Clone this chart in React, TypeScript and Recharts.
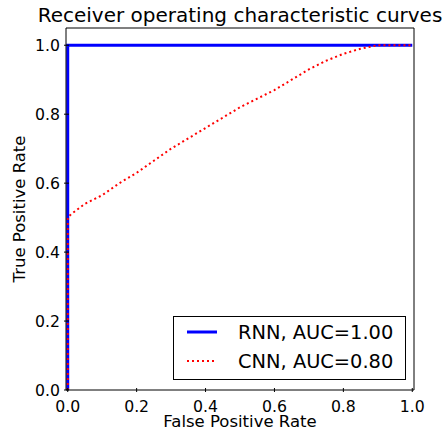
import { LineChart, Line, XAxis, YAxis, Label } from "recharts";

const FONT = "'DejaVu Sans', sans-serif";

// ROC points
const rnnFpr = [0, 0, 1];
const rnnTpr = [0, 1, 1];
const cnnFpr = [0, 0, 0.01, 0.05, 0.1, 0.15, 0.2, 0.25, 0.3, 0.35, 0.4, 0.45, 0.5, 0.55, 0.6, 0.65, 0.7, 0.75, 0.8, 0.85, 0.9, 0.95, 1];
const cnnTpr = [0, 0.5, 0.51, 0.54, 0.565, 0.6, 0.63, 0.665, 0.7, 0.73, 0.76, 0.79, 0.82, 0.845, 0.87, 0.9, 0.93, 0.955, 0.975, 0.99, 1, 1, 1];
const axisTicks = [0, 0.2, 0.4, 0.6, 0.8, 1.0];
const seriesNames = ["RNN, AUC=1.00", "CNN, AUC=0.80"];
const seriesColors = ["#0000ff", "#ff0000"];

const rnnData = rnnFpr.map((x, i) => ({ fpr: x, tpr: rnnTpr[i] }));
const cnnData = cnnFpr.map((x, i) => ({ fpr: x, tpr: cnnTpr[i] }));

const xDomain = [-0.005, 1.005];
const yDomain = [0, 1.05];

const LeftTick = (p: any) => (
  <g>
    <line x1={p.x} x2={p.x + 5} y1={p.y} y2={p.y} stroke="#000" />
    <text x={p.x - 4} y={p.y} dy="0.36em" textAnchor="end" fontSize={15.7} fontFamily={FONT} fill="#000">
      {Number(p.payload.value).toFixed(1)}
    </text>
  </g>
);
const RightTick = (p: any) => <line x1={p.x - 5} x2={p.x} y1={p.y} y2={p.y} stroke="#000" />;
const TopTick = (p: any) => <line x1={p.x} x2={p.x} y1={p.y} y2={p.y + 4} stroke="#000" />;
const BottomTick = (p: any) => (
  <g>
    <line x1={p.x} x2={p.x} y1={p.y - 4} y2={p.y} stroke="#000" />
    <text x={p.x} y={p.y + 20} textAnchor="middle" fontSize={15.7} fontFamily={FONT} fill="#000">
      {Number(p.payload.value).toFixed(1)}
    </text>
  </g>
);

export default function App() {
  return (
    <div style={{ position: "absolute", left: 0, top: 0, width: 445, height: 436, background: "#fff" }}>
      <LineChart width={445} height={436} margin={{ top: 27, right: 30, bottom: 0, left: 0 }}>
        <XAxis
          dataKey="fpr"
          type="number"
          domain={xDomain}
          ticks={axisTicks}
          height={46}
          tickSize={0}
          tickLine={false}
          tick={BottomTick}
          axisLine={{ stroke: "#000" }}
          allowDuplicatedCategory
        >
          <Label
            content={() => (
              <text x={240} y={427} textAnchor="middle" fontSize={16.5} fontFamily={FONT} fill="#000">
                False Positive Rate
              </text>
            )}
          />
        </XAxis>
        <XAxis
          xAxisId="top"
          orientation="top"
          dataKey="fpr"
          type="number"
          domain={xDomain}
          ticks={axisTicks}
          height={1}
          tickSize={0}
          tickLine={false}
          tick={TopTick}
          axisLine={{ stroke: "#000" }}
        >
          <Label
            content={() => (
              <text x={240} y={22} textAnchor="middle" fontSize={20} fontFamily={FONT} fill="#000">
                Receiver operating characteristic curves
              </text>
            )}
          />
        </XAxis>
        <YAxis
          type="number"
          domain={yDomain}
          ticks={axisTicks}
          width={66}
          tickSize={0}
          tickLine={false}
          tick={LeftTick}
          axisLine={{ stroke: "#000" }}
        >
          <Label
            content={() => (
              <text
                transform="translate(25,209) rotate(-90)"
                textAnchor="middle"
                fontSize={16.5}
                fontFamily={FONT}
                fill="#000"
              >
                True Positive Rate
              </text>
            )}
          />
        </YAxis>
        <YAxis
          yAxisId="right"
          orientation="right"
          type="number"
          domain={yDomain}
          ticks={axisTicks}
          width={1}
          tickSize={0}
          tickLine={false}
          tick={RightTick}
          axisLine={{ stroke: "#000" }}
        />
        <Line
          data={rnnData}
          dataKey="tpr"
          type="linear"
          stroke={seriesColors[0]}
          strokeWidth={3}
          dot={false}
          activeDot={false}
          isAnimationActive={false}
        />
        <Line
          data={cnnData}
          dataKey="tpr"
          type="linear"
          stroke={seriesColors[1]}
          strokeWidth={2}
          strokeDasharray="2 3"
          dot={false}
          activeDot={false}
          isAnimationActive={false}
        />
      </LineChart>
      <div
        style={{
          position: "absolute",
          left: 173,
          top: 316,
          width: 233,
          height: 64,
          boxSizing: "border-box",
          border: "1px solid #000",
          background: "#fff",
        }}
      >
        <svg width={231} height={62} style={{ position: "absolute", left: 0, top: 0 }}>
          {seriesNames.map((name, i) => (
            <g key={name}>
              <line
                x1={13}
                x2={43}
                y1={15 + i * 29}
                y2={15 + i * 29}
                stroke={seriesColors[i]}
                strokeWidth={i === 0 ? 3 : 2}
                strokeDasharray={i === 0 ? undefined : "2 3"}
              />
              <text x={64} y={22 + i * 29} fontSize={19.4} fontFamily={FONT} fill="#000">
                {name}
              </text>
            </g>
          ))}
        </svg>
      </div>
    </div>
  );
}
